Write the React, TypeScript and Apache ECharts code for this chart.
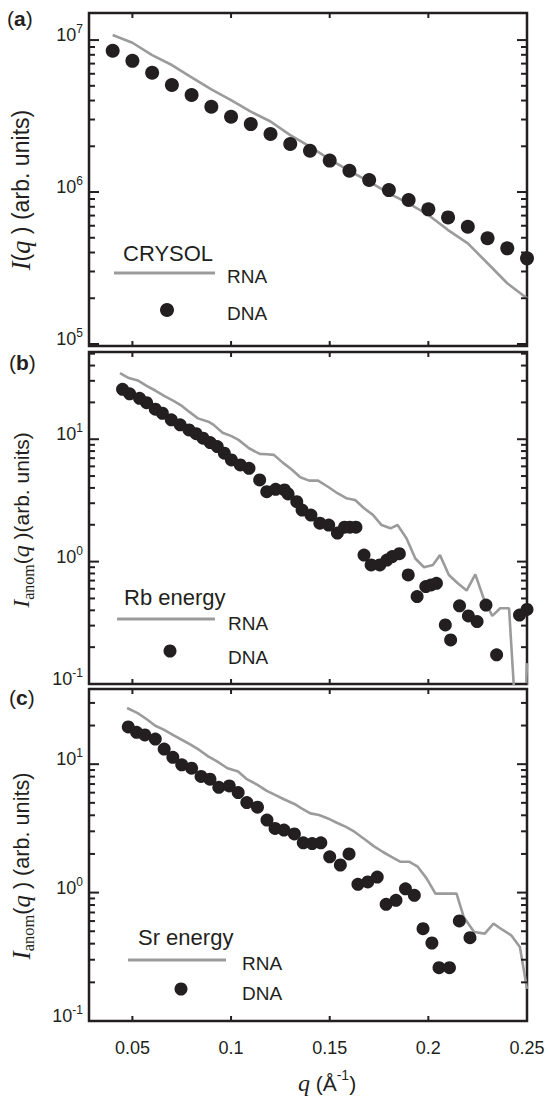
import React, { useEffect, useRef } from "react";
import * as echarts from "echarts";

// ---------- data ----------
const qA = [0.04, 0.05, 0.06, 0.07, 0.08, 0.09, 0.1, 0.11, 0.12, 0.13, 0.14, 0.15, 0.16, 0.17, 0.18, 0.19, 0.2, 0.21, 0.22, 0.23, 0.24, 0.25];
const rnaA = [1.08e7, 9.6e6, 7.96e6, 6.85e6, 5.69e6, 4.74e6, 4.03e6, 3.38e6, 2.91e6, 2.37e6, 1.99e6, 1.64e6, 1.38e6, 1.17e6, 9.8e5, 8.43e5, 7.06e5, 5.62e5, 4.59e5, 3.4e5, 2.51e5, 2.0e5];
const dnaA = [8.5e6, 7.3e6, 6.1e6, 5.06e6, 4.35e6, 3.64e6, 3.13e6, 2.8e6, 2.41e6, 2.07e6, 1.87e6, 1.61e6, 1.38e6, 1.2e6, 1.03e6, 8.86e5, 7.69e5, 6.81e5, 5.91e5, 4.96e5, 4.26e5, 3.66e5];

const qBdna = [0.045, 0.0486, 0.0536, 0.0572, 0.0616, 0.0652, 0.0697, 0.0742, 0.0787, 0.0823, 0.0858, 0.0894, 0.093, 0.0966, 0.1002, 0.1047, 0.1091, 0.1145, 0.1181, 0.1226, 0.1271, 0.1289, 0.1333, 0.136, 0.1405, 0.145, 0.1495, 0.1539, 0.1575, 0.1602, 0.1633, 0.1674, 0.171, 0.1754, 0.179, 0.1817, 0.1853, 0.1898, 0.1943, 0.1987, 0.2014, 0.2041, 0.2086, 0.2113, 0.2158, 0.2203, 0.2247, 0.2292, 0.2346, 0.2462, 0.25];
const dnaB = [25.6, 23.5, 21.6, 19.9, 17.6, 16.3, 14.4, 13.1, 11.9, 11.1, 10.2, 9.4, 8.71, 7.69, 6.78, 6.17, 5.79, 4.65, 3.73, 3.9, 3.85, 3.57, 3.09, 2.64, 2.4, 2.06, 1.99, 1.71, 1.91, 1.91, 1.91, 1.13, 0.939, 0.939, 1.03, 1.1, 1.16, 0.778, 0.518, 0.625, 0.645, 0.665, 0.304, 0.229, 0.435, 0.36, 0.324, 0.442, 0.173, 0.366, 0.407];
const qBrna = [0.0437, 0.0482, 0.0527, 0.0572, 0.0616, 0.0661, 0.0706, 0.0751, 0.0787, 0.0832, 0.0885, 0.0912, 0.0957, 0.1002, 0.1038, 0.1091, 0.1145, 0.1181, 0.1217, 0.1262, 0.1306, 0.1351, 0.1396, 0.1441, 0.1495, 0.1539, 0.1584, 0.1629, 0.1674, 0.1719, 0.1763, 0.1808, 0.1844, 0.1889, 0.1934, 0.1978, 0.2023, 0.2059, 0.2104, 0.2149, 0.2194, 0.2238, 0.2283, 0.2324, 0.2364, 0.2409, 0.2444, 0.2489, 0.25];
const rnaB = [34.7, 31.6, 30.2, 27.3, 25.0, 22.6, 20.7, 18.7, 16.8, 14.8, 13.9, 13.1, 11.3, 10.6, 9.88, 8.44, 7.59, 7.54, 7.45, 6.44, 5.69, 4.89, 4.59, 4.59, 4.05, 3.62, 3.3, 3.19, 2.73, 2.41, 1.99, 1.87, 1.99, 1.55, 1.06, 0.899, 0.94, 1.13, 0.778, 0.666, 0.58, 0.787, 0.486, 0.36, 0.416, 0.416, 0.05, 0.05, 0.148];

const qCdna = [0.0479, 0.0521, 0.0563, 0.0616, 0.0661, 0.0705, 0.075, 0.08, 0.0848, 0.0893, 0.0938, 0.0991, 0.1036, 0.108, 0.1134, 0.1182, 0.1223, 0.1268, 0.1321, 0.1366, 0.1411, 0.1455, 0.15, 0.1554, 0.1598, 0.1643, 0.1693, 0.1741, 0.1786, 0.1836, 0.1884, 0.1929, 0.1973, 0.2018, 0.2054, 0.2107, 0.2157, 0.2211];
const dnaC = [19.5, 17.7, 16.9, 15.7, 13.1, 11.3, 9.88, 9.3, 8.02, 7.64, 6.61, 6.77, 6.01, 5.02, 4.62, 3.67, 3.16, 3.07, 2.86, 2.44, 2.41, 2.44, 1.9, 1.64, 2.0, 1.16, 1.21, 1.32, 0.811, 0.871, 1.07, 0.953, 0.524, 0.405, 0.26, 0.26, 0.601, 0.445];
const qCrna = [0.0473, 0.0527, 0.0571, 0.0616, 0.0661, 0.0705, 0.075, 0.0795, 0.0839, 0.0884, 0.0929, 0.0982, 0.1036, 0.108, 0.1134, 0.1179, 0.1223, 0.1268, 0.1321, 0.1357, 0.1402, 0.1446, 0.1491, 0.1536, 0.158, 0.1625, 0.1679, 0.1723, 0.1768, 0.1813, 0.1857, 0.1902, 0.1946, 0.1991, 0.2036, 0.2089, 0.2143, 0.2179, 0.2232, 0.2286, 0.233, 0.2375, 0.242, 0.2464, 0.25];
const rnaC = [27.4, 25.0, 22.5, 19.9, 18.5, 16.9, 15.5, 14.2, 12.9, 11.5, 10.5, 9.3, 8.77, 7.64, 6.9, 6.23, 5.76, 5.33, 4.9, 4.53, 4.14, 4.02, 3.78, 3.5, 3.26, 2.98, 2.59, 2.3, 2.08, 1.9, 1.74, 1.74, 1.59, 1.29, 0.982, 0.982, 0.982, 0.646, 0.493, 0.479, 0.573, 0.514, 0.465, 0.377, 0.178];

const xRange = [0.028, 0.25];
const xTickValues = [0.05, 0.1, 0.15, 0.2];
const xLabelValues = [0.05, 0.1, 0.15, 0.2, 0.25];
const yRanges = [
  [97000, 1.507e7],
  [0.1, 51.6],
  [0.1, 38.5],
];
const panelLetters = ["a", "b", "c"];
const legendTitles = ["CRYSOL", "Rb energy", "Sr energy"];
const legendNames = ["RNA", "DNA"];

const INK = "#231f20";
const GRAY = "#9b9b9b";
const SANS = "'Liberation Sans', Arial, sans-serif";
const SERIF = "'Liberation Serif', 'Times New Roman', serif";

function pairs(xs: number[], ys: number[]) {
  return xs.map((x, i) => [x, ys[i]]);
}

function logTickValues(min: number, max: number) {
  const out: { v: number; major: boolean }[] = [];
  const e0 = Math.floor(Math.log10(min));
  const e1 = Math.ceil(Math.log10(max));
  for (let e = e0; e <= e1; e++) {
    for (let m = 1; m <= 9; m++) {
      const v = m * Math.pow(10, e);
      if (v >= min * 0.999 && v <= max * 1.001) out.push({ v, major: m === 1 });
    }
  }
  return out;
}

export default function App() {
  const ref = useRef<HTMLDivElement>(null);
  useEffect(() => {
    const chart = echarts.init(ref.current!, null, { renderer: "svg" });

    const gridBoxes = [
      { left: 89, top: 13, width: 438, height: 333 },
      { left: 89, top: 352, width: 438, height: 332 },
      { left: 89, top: 689, width: 438, height: 332 },
    ];

    const grid = gridBoxes.map((g) => ({
      ...g,
      show: true,
      borderColor: INK,
      borderWidth: 2.5,
      backgroundColor: "transparent",
    }));

    const xAxis = gridBoxes.map((_, i) => ({
      type: "value",
      gridIndex: i,
      min: xRange[0],
      max: xRange[1],
      axisLine: { show: false },
      axisTick: { show: false },
      splitLine: { show: false },
      axisLabel:
        i === 2
          ? {
              show: true,
              margin: 18,
              color: INK,
              fontFamily: SANS,
              fontSize: 18,
              formatter: (v: number) => {
                const hit = xLabelValues.find((t) => Math.abs(t - v) < 1e-6);
                return hit === undefined ? "" : String(hit);
              },
            }
          : { show: false },
    }));

    const yAxis = gridBoxes.map((_, i) => ({
      type: "log",
      logBase: 10,
      gridIndex: i,
      min: yRanges[i][0],
      max: yRanges[i][1],
      axisLine: { show: false },
      axisTick: { show: false },
      minorTick: { show: false },
      splitLine: { show: false },
      axisLabel: {
        show: true,
        margin: 6,
        padding: [0, 0, 10, 0],
        color: INK,
        formatter: (v: number) => {
          const e = Math.log10(v);
          const r = Math.round(e);
          if (Math.abs(e - r) > 1e-6) return "";
          return `{b|10}{s|${r}}`;
        },
        rich: {
          b: { fontFamily: SANS, fontSize: 18, lineHeight: 24, color: INK },
          s: { fontFamily: SANS, fontSize: 12, lineHeight: 12, verticalAlign: "top", color: INK },
        },
      },
    }));

    const lineSeries = (gi: number, data: number[][]) => ({
      type: "line",
      xAxisIndex: gi,
      yAxisIndex: gi,
      data,
      symbol: "none",
      showSymbol: false,
      clip: true,
      lineStyle: { color: GRAY, width: 2.6 },
      z: 2,
    });
    const dotSeries = (gi: number, data: number[][], size: number) => ({
      type: "scatter",
      xAxisIndex: gi,
      yAxisIndex: gi,
      data,
      symbol: "circle",
      symbolSize: size,
      itemStyle: { color: INK, opacity: 1 },
      z: 3,
    });

    const series = [
      lineSeries(0, pairs(qA, rnaA)),
      dotSeries(0, pairs(qA, dnaA), 14),
      lineSeries(1, pairs(qBrna, rnaB)),
      dotSeries(1, pairs(qBdna, dnaB), 13),
      lineSeries(2, pairs(qCrna, rnaC)),
      dotSeries(2, pairs(qCdna, dnaC), 13),
    ];

    chart.setOption({
      animation: false,
      backgroundColor: "#ffffff",
      grid,
      xAxis,
      yAxis,
      series,
    } as any);

    const text = (x: number, y: number, t: string, size: number, extra: any = {}) => ({
      type: "text",
      x,
      y,
      silent: true,
      style: {
        text: t,
        fontFamily: SANS,
        fontSize: size,
        fill: INK,
        align: "left",
        verticalAlign: "middle",
        ...extra,
      },
    });

    const titleRich = (k: number) => ({
      i: { fontFamily: SERIF, fontStyle: "italic", fontSize: 24 * k, lineHeight: 30, color: INK },
      n: { fontFamily: SANS, fontSize: 21 * k, lineHeight: 30, color: INK },
      sub: { fontFamily: SERIF, fontSize: 16 * k, lineHeight: 18, verticalAlign: "bottom", color: INK },
      sup: { fontFamily: SANS, fontSize: 14 * k, lineHeight: 14, verticalAlign: "top", color: INK },
    });

    const panelLabelPos = [
      [7, 18],
      [9, 362],
      [9, 697],
    ];
    const yTitlePos = [
      [21, 190],
      [21, 520],
      [21, 866],
    ];
    const yTitleScale = [1.1, 1.0, 1.03];
    const yTitles = [
      "{i|I}{n|(}{i|q}{n| ) (arb. units)}",
      "{i|I}{sub|anom}{n|(}{i|q}{n| )(arb. units)}",
      "{i|I}{sub|anom}{n|(}{i|q}{n| ) (arb. units)}",
    ];
    const legendPos = [
      { tx: 123, ty: 253, lx1: 114, lx2: 215, ly: 273, nx: 227, ny1: 276, dx: 167, dy: 310, ny2: 313, r: 7 },
      { tx: 124, ty: 597, lx1: 117, lx2: 215, ly: 619, nx: 228, ny1: 623, dx: 170, dy: 651, ny2: 657, r: 6.5 },
      { tx: 138, ty: 937, lx1: 128, lx2: 226, ly: 960, nx: 242, ny1: 963, dx: 181, dy: 989, ny2: 993, r: 6.5 },
    ];

    const graphic: any[] = [];
    const tickLine = (x1: number, y1: number, x2: number, y2: number) => ({
      type: "line",
      silent: true,
      z: 10,
      shape: { x1, y1, x2, y2 },
      style: { stroke: INK, lineWidth: 2 },
    });

    // inside ticks on all four sides, placed through the chart's own scales
    gridBoxes.forEach((_, gi) => {
      const ymin = yRanges[gi][0];
      const ymax = yRanges[gi][1];
      logTickValues(ymin, ymax).forEach(({ v, major }) => {
        const pl = chart.convertToPixel({ gridIndex: gi } as any, [xRange[0], v]) as number[];
        const pr = chart.convertToPixel({ gridIndex: gi } as any, [xRange[1], v]) as number[];
        const len = major ? 10 : 6;
        graphic.push(tickLine(pl[0], pl[1], pl[0] + len, pl[1]));
        graphic.push(tickLine(pr[0] - len, pr[1], pr[0], pr[1]));
      });
      xTickValues.forEach((q) => {
        const pb = chart.convertToPixel({ gridIndex: gi } as any, [q, ymin]) as number[];
        const pt = chart.convertToPixel({ gridIndex: gi } as any, [q, ymax]) as number[];
        graphic.push(tickLine(pb[0], pb[1], pb[0], pb[1] - 5));
        graphic.push(tickLine(pt[0], pt[1], pt[0], pt[1] + 5));
      });
    });

    panelLetters.forEach((l, i) => {
      graphic.push(
        text(panelLabelPos[i][0], panelLabelPos[i][1], `{p|(}{l|${l}}{p|)}`, 21, {
          rich: {
            p: { fontFamily: SANS, fontSize: 21, color: INK },
            l: { fontFamily: SANS, fontSize: 21, fontWeight: "bold", color: INK },
          },
        })
      );
      graphic.push({
        type: "text",
        x: yTitlePos[i][0],
        y: yTitlePos[i][1],
        rotation: Math.PI / 2,
        silent: true,
        style: { text: yTitles[i], rich: titleRich(yTitleScale[i]), align: "center", verticalAlign: "middle", fill: INK },
      });
      const L = legendPos[i];
      graphic.push(text(L.tx, L.ty, legendTitles[i], 22));
      graphic.push({
        type: "line",
        silent: true,
        shape: { x1: L.lx1, y1: L.ly, x2: L.lx2, y2: L.ly },
        style: { stroke: GRAY, lineWidth: 3 },
      });
      graphic.push(text(L.nx, L.ny1, legendNames[0], 19));
      graphic.push({
        type: "circle",
        silent: true,
        shape: { cx: L.dx, cy: L.dy, r: L.r },
        style: { fill: INK },
      });
      graphic.push(text(L.nx, L.ny2, legendNames[1], 19));
    });
    graphic.push({
      type: "text",
      x: 327,
      y: 1083,
      silent: true,
      style: {
        text: "{i|q}{n| (Å}{sup|-1}{n|)}",
        rich: titleRich(1),
        align: "center",
        verticalAlign: "middle",
        fill: INK,
      },
    });

    chart.setOption({ graphic } as any);

    return () => chart.dispose();
  }, []);

  return (
    <div
      ref={ref}
      style={{ position: "fixed", left: 0, top: 0, width: 548, height: 1096, background: "#fff" }}
    />
  );
}
